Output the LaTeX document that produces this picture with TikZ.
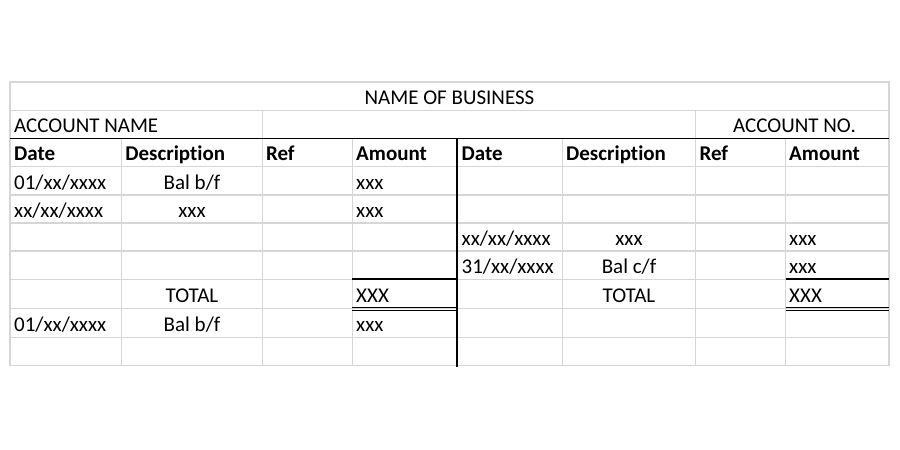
\documentclass[tikz,border=0pt]{standalone}
\usepackage{fontspec}
\setmainfont[Ligatures=NoCommon]{Carlito}
\begin{document}
\begin{tikzpicture}[x=1pt,y=-1pt,
  grid/.style={draw=gridgray,line width=1.4pt},
  heavy/.style={draw=black,line width=1.8pt},
  thin/.style={draw=black,line width=1pt},
  txt/.style={inner sep=0pt,font=\fontsize{21}{23}\selectfont,text=black},
  lt/.style={txt,anchor=base west},
  ct/.style={txt,anchor=base},
  hd/.style={txt,anchor=base west,font=\fontsize{21}{23}\selectfont\bfseries}]
\definecolor{gridgray}{HTML}{D6D6D6}
\useasboundingbox[fill=white] (0,0) rectangle (900,450);
% columns
\def\cA{10}\def\cB{121.7}\def\cC{262.3}\def\cD{352.3}\def\cE{456.7}
\def\cF{562.3}\def\cG{695.7}\def\cH{785.7}\def\cI{889}
% gray grid
\draw[grid] (\cA,82) rectangle (\cI,365.7);
\draw[grid] (\cA,110.5) -- (\cI,110.5);
\draw[grid] (\cC,110.5) -- (\cC,138.5);
\draw[grid] (\cG,110.5) -- (\cG,138.5);
\foreach \y in {166.5,195,223,251,279.3,308.3,337.3}
  \draw[grid] (\cA,\y) -- (\cI,\y);
\foreach \x in {\cB,\cC,\cD,\cF,\cG,\cH}
  \draw[grid] (\x,138.5) -- (\x,365.7);
% heavy rules
\draw[heavy] (\cA,138.5) -- (\cI,138.5);
\draw[heavy] (\cE,138.5) -- (\cE,366.5);
\draw[heavy] (\cD,279.3) -- (\cE,279.3);
\draw[heavy] (\cH,279.3) -- (\cI,279.3);
\draw[thin] (\cD,307.8) -- (\cE,307.8);
\draw[thin] (\cD,310.3) -- (\cE,310.3);
\draw[thin] (\cH,307.8) -- (\cI,307.8);
\draw[thin] (\cH,310.3) -- (\cI,310.3);
% titles
\node[ct] (biz) at (449.5,104.6) {NAME OF BUSINESS};
\node[lt] (accname) at (14,132.6) {ACCOUNT NAME};
\node[ct] (accno) at (794.5,132.6) {ACCOUNT NO.};
% header
\def\yh{160.8}
\node[hd] (hdateL) at (14,\yh) {Date};
\node[hd] (hdescL) at (125.2,\yh) {Description};
\node[hd] (hrefL) at (265.8,\yh) {Ref};
\node[hd] (hamtL) at (356,\yh) {Amount};
\node[hd] (hdateR) at (461.5,\yh) {Date};
\node[hd] (hdescR) at (566,\yh) {Description};
\node[hd] (hrefR) at (699.3,\yh) {Ref};
\node[hd] (hamtR) at (789,\yh) {Amount};
% row 1
\node[lt] (d1) at (14,189.2) {01/xx/xxxx};
\node[ct] (e1) at (192,189.2) {Bal b/f};
\node[lt] (a1) at (356,189.2) {xxx};
% row 2
\node[lt] (d2) at (14,217.2) {xx/xx/xxxx};
\node[ct] (e2) at (192,217.2) {xxx};
\node[lt] (a2) at (356,217.2) {xxx};
% row 3
\node[lt] (d3) at (461.5,245.2) {xx/xx/xxxx};
\node[ct] (e3) at (629,245.2) {xxx};
\node[lt] (a3) at (789,245.2) {xxx};
% row 4
\node[lt] (d4) at (461.5,273.4) {31/xx/xxxx};
\node[ct] (e4) at (629,273.4) {Bal c/f};
\node[lt] (a4) at (789,273.4) {xxx};
% totals
\node[ct] (tL) at (192,302.3) {TOTAL};
\node[lt] (xL) at (356,302.3) {XXX};
\node[ct] (tR) at (629,302.3) {TOTAL};
\node[lt] (xR) at (789,302.3) {XXX};
% row 6
\node[lt] (d6) at (14,331.3) {01/xx/xxxx};
\node[ct] (e6) at (192,331.3) {Bal b/f};
\node[lt] (a6) at (356,331.3) {xxx};
\end{tikzpicture}
\end{document}
